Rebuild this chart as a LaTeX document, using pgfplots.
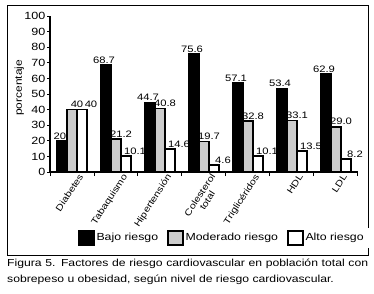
\documentclass[border=0pt]{standalone}
\usepackage{pgfplots}
\pgfplotsset{compat=1.18}
\usepackage{fontspec}
\setmainfont[FakeStretch=1.2]{Liberation Sans}
\definecolor{midgray}{RGB}{204,204,204}
\begin{document}
\begin{tikzpicture}
\path[use as bounding box] (0bp,0bp) rectangle (374bp,-294bp);
\draw[line width=1bp] (7bp,-5bp) rectangle (368bp,-255bp);
\begin{axis}[
  at={(50bp,-172bp)}, anchor=south west,
  scale only axis, width=308bp, height=156bp,
  ybar=0pt, bar width=10bp,
  xmin=-0.5, xmax=6.5, ymin=0, ymax=100,
  axis x line*=bottom, axis y line*=left,
  x axis line style={-}, y axis line style={-},
  axis line style={line width=1.2bp},
  /pgf/number format/assume math mode=true,
  ytick={0,10,...,100},
  yticklabel style={font=\fontsize{10.5}{12}\selectfont, inner sep=1.5bp},
  xtick={0,...,6},
  xticklabels={Diabetes,Tabaquismo,Hipertensión,{Colesterol\\total},Triglicéridos,HDL,LDL},
  xticklabel style={rotate=57, anchor=north east, align=center, font=\fontsize{9}{9}\selectfont, inner sep=1bp, xshift=6bp, yshift=-3bp},
  major x tick style={draw=none},
  minor xtick={-0.5,0.5,...,6.5},
  tick align=outside,
  major tick length=3bp, minor tick length=4bp,
  tick style={line width=1bp, black},
  ylabel={porcentaje},
  ylabel style={font=\fontsize{10}{10}\selectfont, at={(axis description cs:-0.1,0.54)}, anchor=center},
  point meta=explicit symbolic,
  every node near coord/.append style={font=\fontsize{9.4}{10}\selectfont, inner sep=1.5bp, black},
  legend style={at={(0.558,-0.423)}, anchor=center, draw=none, legend columns=3,
     font=\fontsize{10.3}{12}\selectfont,
     /tikz/every even column/.append style={column sep=7bp},
     /tikz/every odd column/.append style={column sep=0bp}},
  legend image code/.code={\draw[#1, line width=1.5bp] (0bp,-7bp) rectangle (15bp,7bp);},
  clip=false,
]
\addplot[fill=black, draw=black, line width=1.5bp, bar shift=-10bp] coordinates {
 (0,20) (1,68.7) (2,44.7) (3,75.6) (4,57.1) (5,53.4) (6,62.9)};
\addplot[fill=midgray, draw=black, line width=1.5bp, bar shift=0bp] coordinates {
 (0,40) (1,21.2) (2,40.8) (3,19.7) (4,32.8) (5,33.1) (6,29.0)};
\addplot[fill=white, draw=black, line width=1.5bp, bar shift=10bp] coordinates {
 (0,40) (1,10.1) (2,14.6) (3,4.6) (4,10.1) (5,13.5) (6,8.2)};
\legend{Bajo riesgo, Moderado riesgo, Alto riesgo}
\addplot[draw=none, fill=none, bar shift=-12bp, nodes near coords, forget plot] coordinates {
 (0,20) [20] (1,68.7) [68.7] (2,44.7) [44.7] (3,75.6) [75.6] (4,57.1) [57.1] (5,53.4) [53.4] (6,62.9) [62.9]};
\addplot[draw=none, fill=none, bar shift=5bp, nodes near coords, forget plot] coordinates {
 (0,40) [40] (1,21.2) [21.2] (2,40.8) [40.8] (3,19.7) [19.7] (4,32.8) [32.8] (5,33.1) [33.1] (6,29.0) [29.0]};
\addplot[draw=none, fill=none, bar shift=19bp, nodes near coords, forget plot] coordinates {
 (0,40) [40] (1,10.1) [10.1] (2,14.6) [14.6] (3,4.6) [4.6] (4,10.1) [10.1] (5,13.5) [13.5] (6,8.2) [8.2]};
\end{axis}
\node[anchor=north west, text width=361bp, align=justify, inner sep=0pt,
  font=\fontsize{10.2}{15.5}\selectfont] at (7bp,-259bp)
  {Figura 5. Factores de riesgo cardiovascular en población total con\linebreak sobrepeso u obesidad, según nivel de riesgo cardiovascular.};
\end{tikzpicture}
\end{document}
